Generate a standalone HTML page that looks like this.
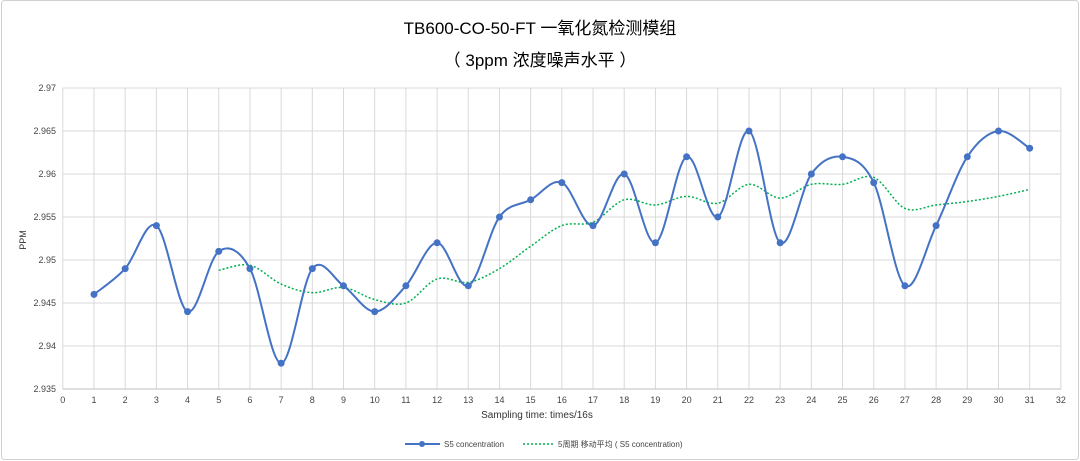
<!DOCTYPE html>
<html><head><meta charset="utf-8"><style>
body{margin:0;background:#fff;width:1080px;height:461px;overflow:hidden}
svg{display:block;font-family:"Liberation Sans","Noto Sans CJK SC",sans-serif}
</style></head><body>
<svg id="s" width="1080" height="461" xmlns="http://www.w3.org/2000/svg">
<rect x="1.5" y="0.5" width="1077" height="459" rx="3" fill="none" stroke="#d0d0d0"/>
<text x="540" y="34" text-anchor="middle" font-size="17" fill="#000">TB600-CO-50-FT 一氧化氮检测模组</text>
<text x="540" y="66" text-anchor="middle" font-size="17" fill="#000">（ 3ppm 浓度噪声水平 ）</text>
<g id="grid"></g>
<text x="537" y="418" text-anchor="middle" font-size="10" fill="#333">Sampling time: times/16s</text>
<text transform="translate(26,240) rotate(-90)" text-anchor="middle" font-size="9" fill="#333">PPM</text>
<line x1="405" y1="444" x2="440" y2="444" stroke="#4472c4" stroke-width="2"/>
<circle cx="422" cy="444" r="3" fill="#4472c4"/>
<text x="444" y="447" font-size="8" fill="#444">S5 concentration</text>
<line x1="523" y1="444" x2="553" y2="444" stroke="#00b050" stroke-width="1.5" stroke-dasharray="2,2"/>
<text x="558" y="447" font-size="8" fill="#444">5周期 移动平均 ( S5 concentration)</text>
</svg>
<script>
const d=[2.946,2.949,2.954,2.944,2.951,2.949,2.938,2.949,2.947,2.944,2.947,2.952,2.947,2.955,2.957,2.959,2.954,2.960,2.952,2.962,2.955,2.965,2.952,2.960,2.962,2.959,2.947,2.954,2.962,2.965,2.963];
const X=v=>62.8+v*31.19, Y=v=>88+(2.97-v)/0.005*43;
let g='';
for(let i=0;i<=32;i++){const x=X(i);g+=`<line x1="${x}" y1="88" x2="${x}" y2="389" stroke="#d9d9d9"/><text x="${x}" y="403" text-anchor="middle" font-size="9" fill="#444">${i}</text>`;}
const yl=['2.97','2.965','2.96','2.955','2.95','2.945','2.94','2.935'];
yl.forEach((t,k)=>{const y=88+k*43;g+=`<line x1="62.8" y1="${y}" x2="1061" y2="${y}" stroke="#d9d9d9"/><text x="56" y="${y+3}" text-anchor="end" font-size="9" fill="#444">${t}</text>`;});
g+=`<line x1="62.8" y1="389" x2="1061" y2="389" stroke="#bfbfbf"/>`;
const p=d.map((v,i)=>[X(i+1),Y(v)]);
function smooth(p){let s=`M${p[0][0]},${p[0][1]}`;for(let i=0;i<p.length-1;i++){const a=p[Math.max(i-1,0)],b=p[i],c=p[i+1],e=p[Math.min(i+2,p.length-1)];const t=1/6;s+=` C${b[0]+(c[0]-a[0])*t},${b[1]+(c[1]-a[1])*t} ${c[0]-(e[0]-b[0])*t},${c[1]-(e[1]-b[1])*t} ${c[0]},${c[1]}`;}return s;}
const m=[];for(let i=4;i<d.length;i++){let s=0;for(let j=i-4;j<=i;j++)s+=d[j];m.push([X(i+1),Y(s/5)]);}
g+=`<path d="${smooth(m)}" fill="none" stroke="#00b050" stroke-width="1.5" stroke-dasharray="2,2"/>`;
g+=`<path d="${smooth(p)}" fill="none" stroke="#4472c4" stroke-width="2"/>`;
p.forEach(q=>g+=`<circle cx="${q[0]}" cy="${q[1]}" r="3.5" fill="#4472c4"/>`);
document.getElementById('grid').innerHTML=g;
</script>
</body></html>
